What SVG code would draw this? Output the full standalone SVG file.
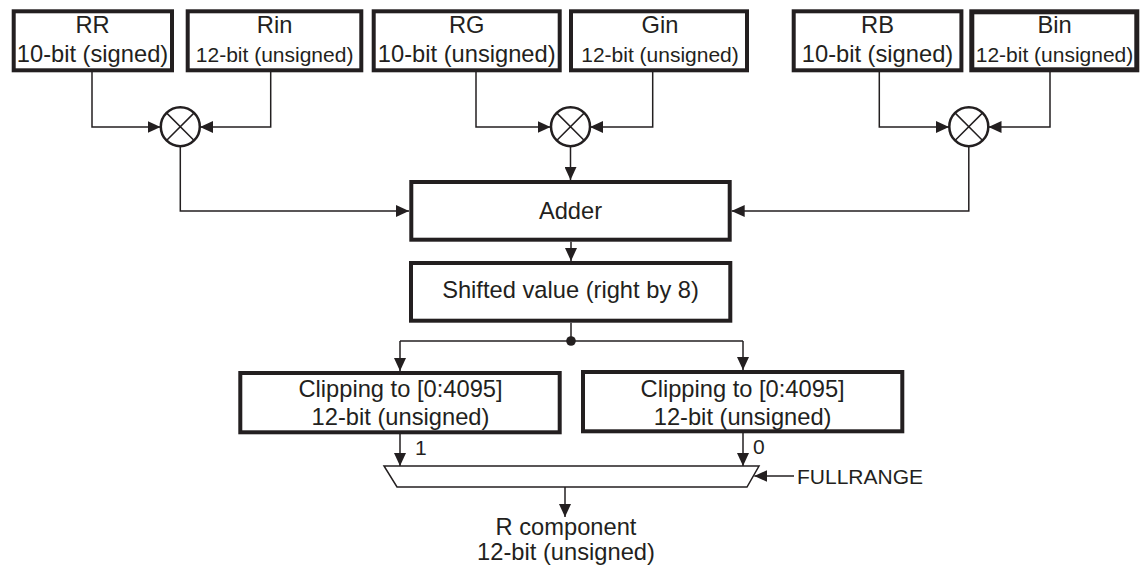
<svg xmlns="http://www.w3.org/2000/svg" width="1140" height="569" viewBox="0 0 1140 569">
<style>
.box{fill:#fff;stroke:#231f20;stroke-width:4}
.thin{fill:none;stroke:#231f20;stroke-width:1.5}
.mul{fill:#fff;stroke:#231f20;stroke-width:2.5}
text{font-family:"Liberation Sans",Arial,sans-serif;fill:#231f20;text-anchor:middle}
.t{font-size:23.7px}
.s{font-size:21px}
</style>
<defs>
<marker id="ah" markerWidth="13" markerHeight="12" refX="13" refY="6" orient="auto" markerUnits="userSpaceOnUse">
<path d="M0,0 L13,6 L0,12 Z" fill="#231f20"/>
</marker>
</defs>
<rect width="1140" height="569" fill="#fff"/>
<g id="connectors" class="thin">
<path d="M92,72 V127 H160.5" marker-end="url(#ah)"/>
<path d="M270.7,72 V127 H200" marker-end="url(#ah)"/>
<path d="M476,72 V127 H550.5" marker-end="url(#ah)"/>
<path d="M652.7,72 V127 H590" marker-end="url(#ah)"/>
<path d="M879.3,72 V127 H949" marker-end="url(#ah)"/>
<path d="M1050,72 V127 H988.5" marker-end="url(#ah)"/>
<path d="M180.3,146.5 V211 H409" marker-end="url(#ah)"/>
<path d="M570.5,146.5 V180" marker-end="url(#ah)"/>
<path d="M968.8,146.5 V211 H731.7" marker-end="url(#ah)"/>
<path d="M571,241.7 V261" marker-end="url(#ah)"/>
<path d="M571,322.7 V341"/>
<path d="M400,341 H743"/>
<path d="M400,341 V371" marker-end="url(#ah)"/>
<path d="M743,341 V370" marker-end="url(#ah)"/>
<path d="M400,434 V466" marker-end="url(#ah)"/>
<path d="M743,433 V466" marker-end="url(#ah)"/>
<path d="M565,487 V517" marker-end="url(#ah)"/>
<path d="M794,476 H754.3" marker-end="url(#ah)"/>
<circle cx="571" cy="341" r="4.8" fill="#231f20" stroke="none"/>
</g>
<g id="RR"><rect class="box" x="13.7" y="11.3" width="158.3" height="59"/>
<text class="t" x="92.5" y="33.3">RR</text><text class="t" x="92.5" y="61.7">10-bit (signed)</text></g>
<g id="Rin"><rect class="box" x="187.7" y="11.3" width="173.6" height="59"/>
<text class="t" x="274.6" y="33.3">Rin</text><text class="s" x="274.6" y="61.7">12-bit (unsigned)</text></g>
<g id="RG"><rect class="box" x="373.7" y="11.3" width="186" height="59"/>
<text class="t" x="466.7" y="33.3">RG</text><text class="t" x="466.7" y="61.7">10-bit (unsigned)</text></g>
<g id="Gin"><rect class="box" x="571" y="11.3" width="176" height="59"/>
<text class="t" x="660" y="33.3">Gin</text><text class="s" x="660" y="61.7">12-bit (unsigned)</text></g>
<g id="RB"><rect class="box" x="793.7" y="11.3" width="167.7" height="59"/>
<text class="t" x="877.5" y="33.3">RB</text><text class="t" x="877.5" y="61.7">10-bit (signed)</text></g>
<g id="Bin"><rect class="box" x="971.8" y="11.8" width="165" height="58" style="stroke-width:5"/>
<text class="t" x="1054.5" y="33.3">Bin</text><text class="s" x="1054.5" y="61.7">12-bit (unsigned)</text></g>
<g id="mult1"><circle class="mul" cx="180.3" cy="126.7" r="19.5"/><path class="thin" d="M166.5,112.9 L194.1,140.5 M194.1,112.9 L166.5,140.5"/></g>
<g id="mult2"><circle class="mul" cx="570.5" cy="126.7" r="19.5"/><path class="thin" d="M556.7,112.9 L584.3,140.5 M584.3,112.9 L556.7,140.5"/></g>
<g id="mult3"><circle class="mul" cx="968.8" cy="126.7" r="19.5"/><path class="thin" d="M955,112.9 L982.6,140.5 M982.6,112.9 L955,140.5"/></g>
<g id="adder"><rect class="box" x="411.3" y="182" width="318.4" height="57.7"/>
<text class="t" x="570.5" y="219.3">Adder</text></g>
<g id="shift"><rect class="box" x="411" y="263" width="319.3" height="57.7"/>
<text class="t" x="570.5" y="298.3">Shifted value (right by 8)</text></g>
<g id="clip1"><rect class="box" x="240.3" y="373" width="319.4" height="59.3"/>
<text class="t" x="400.5" y="397.3">Clipping to [0:4095]</text><text class="t" x="400.5" y="425">12-bit (unsigned)</text></g>
<g id="clip2"><rect class="box" x="583" y="372" width="319.3" height="59.3"/>
<text class="t" x="742.6" y="397">Clipping to [0:4095]</text><text class="t" x="742.6" y="424.7">12-bit (unsigned)</text></g>
<g id="mux"><polygon points="384,466 759,466 747,487 397,487" fill="#fff" stroke="#231f20" stroke-width="1.5"/></g>
<g id="labels">
<text class="s" x="415" y="455" style="text-anchor:start">1</text>
<text class="s" x="753" y="454" style="text-anchor:start">0</text>
<text class="s" x="797" y="483.5" style="text-anchor:start">FULLRANGE</text>
<text class="t" x="566" y="535">R component</text>
<text class="t" x="566" y="559.5">12-bit (unsigned)</text>
</g>
</svg>
